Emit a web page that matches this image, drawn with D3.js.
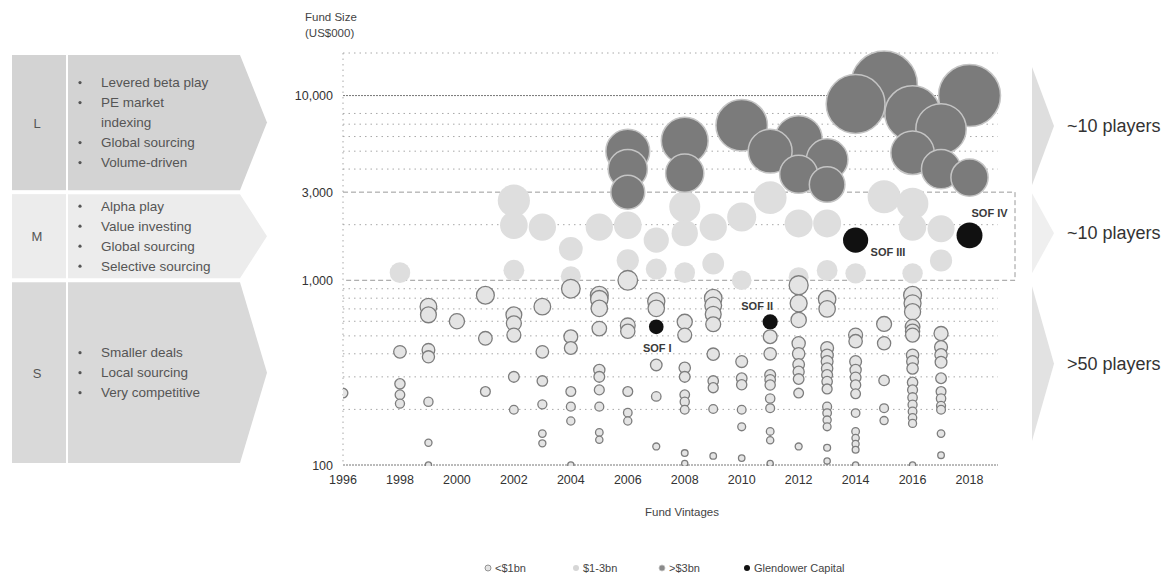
<!DOCTYPE html>
<html lang="en">
<head>
    <meta charset="UTF-8">
    <title>Fund Size by Vintage</title>
    <script src="https://d3js.org/d3.v7.min.js"></script>
    <style>
        body { margin: 0; background: #fff; }
        svg { font-family: 'Liberation Sans', Arial, sans-serif; }
        .grid { stroke: #a8a8a8; stroke-width: 1; stroke-dasharray: 1.5,4; }
        .grid-major { stroke: #777; stroke-width: 1; stroke-dasharray: 2,1; }
        .grid-box { stroke: #9a9a9a; stroke-width: 1; stroke-dasharray: 5,3; fill: none; }
        .tick-label { font-size: 12.5px; fill: #333; }
        .axis-title { font-size: 11.5px; fill: #444; }
        .bullet { font-size: 13.5px; fill: #555; }
        .tier { font-size: 13px; fill: #555; }
        .players { font-size: 18px; fill: #333; }
        .sof { font-size: 11px; font-weight: bold; fill: #3a3a3a; }
        .legend { font-size: 11px; fill: #444; }
    </style>
</head>
<body>
<svg width="1172" height="575"></svg>
<script>
    // tick labels
    const yearTicks = [1996, 1998, 2000, 2002, 2004, 2006, 2008, 2010, 2012, 2014, 2016, 2018];
    const sizeTicks = [100, 1000, 3000, 10000];
    const gridSizes = [200, 300, 400, 500, 600, 700, 800, 900, 2000, 4000, 5000, 6000, 7000, 8000, 17000];

    // [vintage, fund size US$000]
    const fundsUnder1bn = [
        [1996, 245],
        [1998, 410], [1998, 275], [1998, 240], [1998, 215],
        [1999, 720], [1999, 650], [1999, 420], [1999, 385], [1999, 220], [1999, 132], [1999, 100],
        [2000, 600],
        [2001, 830], [2001, 485], [2001, 250],
        [2002, 650], [2002, 585], [2002, 505], [2002, 300], [2002, 199],
        [2003, 720], [2003, 410], [2003, 285], [2003, 213], [2003, 148], [2003, 131],
        [2004, 900], [2004, 495], [2004, 430], [2004, 250], [2004, 207], [2004, 173], [2004, 100],
        [2005, 830], [2005, 790], [2005, 705], [2005, 548], [2005, 327], [2005, 300], [2005, 255], [2005, 207], [2005, 150], [2005, 137],
        [2006, 1000], [2006, 570], [2006, 530], [2006, 250], [2006, 192], [2006, 173],
        [2007, 770], [2007, 705], [2007, 348], [2007, 235], [2007, 126],
        [2008, 596], [2008, 505], [2008, 336], [2008, 300], [2008, 240], [2008, 220], [2008, 199], [2008, 116], [2008, 102],
        [2009, 800], [2009, 730], [2009, 655], [2009, 578], [2009, 398], [2009, 285], [2009, 262], [2009, 201], [2009, 112],
        [2010, 363], [2010, 295], [2010, 272], [2010, 199], [2010, 161], [2010, 109],
        [2011, 495], [2011, 400], [2011, 307], [2011, 289], [2011, 271], [2011, 229], [2011, 203], [2011, 152], [2011, 136], [2011, 102],
        [2012, 940], [2012, 750], [2012, 610], [2012, 456], [2012, 400], [2012, 350], [2012, 320], [2012, 292], [2012, 245], [2012, 126],
        [2013, 790], [2013, 700], [2013, 430], [2013, 393], [2013, 363], [2013, 333], [2013, 307], [2013, 283], [2013, 258],
        [2013, 207], [2013, 191], [2013, 175], [2013, 161], [2013, 124], [2013, 105],
        [2014, 505], [2014, 468], [2014, 363], [2014, 327], [2014, 298], [2014, 271], [2014, 243], [2014, 191], [2014, 152],
        [2014, 140], [2014, 130], [2014, 121], [2014, 100],
        [2015, 580], [2015, 456], [2015, 287], [2015, 203], [2015, 174],
        [2016, 830], [2016, 750], [2016, 676], [2016, 560], [2016, 530], [2016, 505], [2016, 393], [2016, 363], [2016, 333],
        [2016, 280], [2016, 255], [2016, 232], [2016, 212], [2016, 195], [2016, 180], [2016, 168], [2016, 100],
        [2017, 515], [2017, 435], [2017, 395], [2017, 360], [2017, 295], [2017, 250], [2017, 229], [2017, 209], [2017, 199], [2017, 148], [2017, 113]
    ];

    const funds1to3bn = [
        [1998, 1100],
        [2002, 2700], [2002, 1985], [2002, 1133],
        [2003, 1940],
        [2004, 1480], [2004, 1050],
        [2005, 1940],
        [2006, 1985], [2006, 1283],
        [2007, 1650], [2007, 1150],
        [2008, 2500], [2008, 1800], [2008, 1100],
        [2009, 1940], [2009, 1230],
        [2010, 2200], [2010, 1000],
        [2011, 2800],
        [2012, 2030], [2012, 1040],
        [2013, 2030], [2013, 1130],
        [2014, 1090],
        [2015, 2830],
        [2016, 2600], [2016, 1940], [2016, 1090],
        [2017, 1900], [2017, 1280]
    ];

    const fundsOver3bn = [
        [2006, 5000], [2006, 4000], [2006, 3000],
        [2008, 5700], [2008, 3800],
        [2010, 6900],
        [2011, 5000],
        [2012, 5800], [2012, 3750],
        [2013, 4500], [2013, 3300],
        [2014, 9000],
        [2015, 11500],
        [2016, 8000], [2016, 4900],
        [2017, 6600], [2017, 4000],
        [2018, 10000], [2018, 3600]
    ];

    const glendowerFunds = [["SOF I", 2007, 560], ["SOF II", 2011, 596], ["SOF III", 2014, 1650], ["SOF IV", 2018, 1750]];

    // strategy tiers (left) and player counts (right)
    const tiers = ["L", "M", "S"];
    const tierBounds = [17000, 3000, 1000, 100];
    const tierBullets = [
        [["Levered beta play"], ["PE market", "indexing"], ["Global sourcing"], ["Volume-driven"]],
        [["Alpha play"], ["Value investing"], ["Global sourcing"], ["Selective sourcing"]],
        [["Smaller deals"], ["Local sourcing"], ["Very competitive"]]
    ];
    const tierPlayers = ["~10 players", "~10 players", ">50 players"];
    const legendLabels = ["<$1bn", "$1-3bn", ">$3bn", "Glendower Capital"];

    const svg = d3.select("svg"),
        margin = {top: 53, right: 174, bottom: 110, left: 343},
        width = +svg.attr("width") - margin.left - margin.right,
        height = +svg.attr("height") - margin.top - margin.bottom;

    const x = d3.scaleLinear().domain([1996, 2019]).range([margin.left, margin.left + width]);
    const y = d3.scaleLog().domain([100, 17000]).range([margin.top + height, margin.top]);
    const r = d3.scaleSqrt().domain([0, 10000]).range([0, 31]);

    const tierFill = ["#d3d3d3", "#ececec", "#d9d9d9"];
    const arrowFill = ["#dedede", "#efefef", "#e2e2e2"];
    const arrowInset = [[14, 7], [1, 7], [6, 24]];

    // left tier panels
    tiers.forEach(function (t, i) {
        const top = y(tierBounds[i]) + 2,
            bot = y(tierBounds[i + 1]) - 2,
            mid = (top + bot) / 2;
        svg.append("rect").attr("x", 12).attr("y", top).attr("width", 54).attr("height", bot - top)
            .attr("fill", tierFill[i]);
        svg.append("path")
            .attr("d", "M68," + top + "H240L267," + mid + "L240," + bot + "H68Z")
            .attr("fill", tierFill[i]);
        svg.append("text").attr("class", "tier").attr("x", 37).attr("y", mid + 5)
            .attr("text-anchor", "middle").text(t);

        const lines = [];
        tierBullets[i].forEach(function (b) {
            b.forEach(function (l, j) { lines.push({text: l, bullet: j === 0}); });
        });
        const y0 = mid - (lines.length - 1) * 10;
        lines.forEach(function (l, j) {
            if (l.bullet) {
                svg.append("circle").attr("cx", 80).attr("cy", y0 + j * 20).attr("r", 1.6).attr("fill", "#555");
            }
            svg.append("text").attr("class", "bullet").attr("x", 101).attr("y", y0 + j * 20 + 4.5).text(l.text);
        });

        // right arrows
        const at = y(tierBounds[i]) + arrowInset[i][0],
            ab = y(tierBounds[i + 1]) - arrowInset[i][1],
            am = (at + ab) / 2;
        svg.append("path")
            .attr("d", "M1032," + at + "L1054," + am + "L1032," + ab + "Z")
            .attr("fill", arrowFill[i]);
        svg.append("text").attr("class", "players").attr("x", 1067).attr("y", am + 6).text(tierPlayers[i]);
    });

    // gridlines
    svg.append("g").selectAll("line").data(gridSizes).enter().append("line")
        .attr("class", "grid")
        .attr("x1", margin.left).attr("x2", margin.left + width)
        .attr("y1", function (d) { return y(d); }).attr("y2", function (d) { return y(d); });

    svg.append("line").attr("class", "grid-major")
        .attr("x1", margin.left).attr("x2", margin.left + width)
        .attr("y1", y(10000)).attr("y2", y(10000));
    svg.append("line").attr("class", "grid-major")
        .attr("x1", margin.left).attr("x2", margin.left + width)
        .attr("y1", y(100)).attr("y2", y(100));
    svg.append("line").attr("class", "grid")
        .attr("x1", margin.left).attr("x2", margin.left)
        .attr("y1", y(17000)).attr("y2", y(100));

    // dashed box around the mid-size band
    svg.append("path").attr("class", "grid-box")
        .attr("d", "M" + margin.left + "," + y(3000) + "H1015V" + y(1000) + "H" + margin.left);

    // axes labels
    svg.append("g").selectAll("text").data(sizeTicks).enter().append("text")
        .attr("class", "tick-label")
        .attr("x", 333).attr("y", function (d) { return y(d) + 4.5; })
        .attr("text-anchor", "end")
        .text(d3.format(","));

    svg.append("g").selectAll("text").data(yearTicks).enter().append("text")
        .attr("class", "tick-label")
        .attr("x", function (d) { return x(d); }).attr("y", y(100) + 19)
        .attr("text-anchor", "middle")
        .text(function (d) { return d; });

    svg.append("text").attr("class", "axis-title").attr("x", 305).attr("y", 21).text("Fund Size");
    svg.append("text").attr("class", "axis-title").attr("x", 305).attr("y", 37).text("(US$000)");
    svg.append("text").attr("class", "axis-title").attr("x", 682).attr("y", 516)
        .attr("text-anchor", "middle").text("Fund Vintages");

    // bubbles
    function bySizeDesc(a, b) { return b[1] - a[1]; }
    svg.append("clipPath").attr("id", "plot-clip").append("rect")
        .attr("x", margin.left).attr("y", 0).attr("width", width + 40).attr("height", y(100) + 1);

    const plot = svg.append("g").attr("clip-path", "url(#plot-clip)");

    plot.append("g").selectAll("circle").data(funds1to3bn.slice().sort(bySizeDesc)).enter().append("circle")
        .attr("cx", function (d) { return x(d[0]); })
        .attr("cy", function (d) { return y(d[1]); })
        .attr("r", function (d) { return r(d[1]); })
        .attr("fill", "#dedede");

    plot.append("g").selectAll("circle").data(fundsOver3bn.slice().sort(bySizeDesc)).enter().append("circle")
        .attr("cx", function (d) { return x(d[0]); })
        .attr("cy", function (d) { return y(d[1]); })
        .attr("r", function (d) { return r(d[1]); })
        .attr("fill", "#7b7b7b")
        .attr("stroke", "#c4c4c4")
        .attr("stroke-width", 1.5);

    plot.append("g").selectAll("circle").data(fundsUnder1bn.slice().sort(bySizeDesc)).enter().append("circle")
        .attr("cx", function (d) { return x(d[0]); })
        .attr("cy", function (d) { return y(d[1]); })
        .attr("r", function (d) { return r(d[1]); })
        .attr("fill", "#e4e4e4")
        .attr("stroke", "#7d7d7d")
        .attr("stroke-width", 1.3);

    const sofOffset = {"SOF I": [1, 25, "middle"], "SOF II": [-13, -12, "middle"], "SOF III": [15, 16, "start"], "SOF IV": [20, -18, "middle"]};

    plot.append("g").selectAll("circle").data(glendowerFunds).enter().append("circle")
        .attr("cx", function (d) { return x(d[1]); })
        .attr("cy", function (d) { return y(d[2]); })
        .attr("r", function (d) { return r(d[2]); })
        .attr("fill", "#111");

    svg.append("g").selectAll("text").data(glendowerFunds).enter().append("text")
        .attr("class", "sof")
        .attr("x", function (d) { return x(d[1]) + sofOffset[d[0]][0]; })
        .attr("y", function (d) { return y(d[2]) + sofOffset[d[0]][1]; })
        .attr("text-anchor", function (d) { return sofOffset[d[0]][2]; })
        .text(function (d) { return d[0]; });

    // legend
    const legendX = [488, 576, 662, 747];
    const legendStyle = [
        {fill: "#e4e4e4", stroke: "#7d7d7d"},
        {fill: "#d6d6d6", stroke: "none"},
        {fill: "#8a8a8a", stroke: "#c4c4c4"},
        {fill: "#111", stroke: "none"}
    ];
    legendLabels.forEach(function (l, i) {
        svg.append("circle").attr("cx", legendX[i]).attr("cy", 568).attr("r", 3)
            .attr("fill", legendStyle[i].fill).attr("stroke", legendStyle[i].stroke).attr("stroke-width", 0.8);
        svg.append("text").attr("class", "legend").attr("x", legendX[i] + 7).attr("y", 572).text(l);
    });
</script>
</body>
</html>
